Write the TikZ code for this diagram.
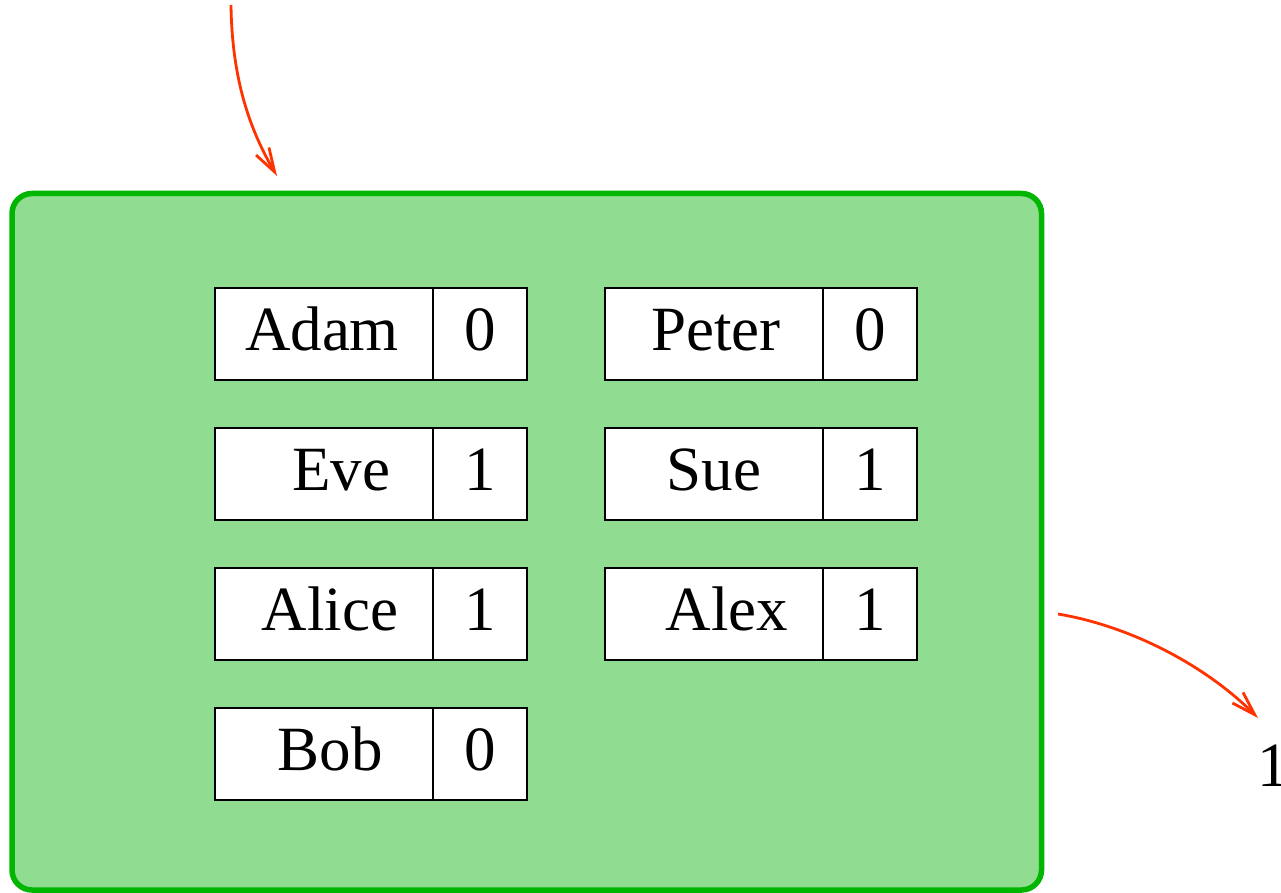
\documentclass[tikz,border=0pt]{standalone}
\usepackage{fontspec}
\setmainfont{Liberation Serif}
\usetikzlibrary{arrows.meta}
\definecolor{boxfill}{RGB}{144,220,144}
\definecolor{boxline}{RGB}{0,182,0}
\definecolor{arrred}{RGB}{255,51,0}
\begin{document}
\begin{tikzpicture}[x=1pt,y=-1pt,
  cellbox/.style={draw=black,line width=1.3pt,fill=white},
  celltext/.style={font=\fontsize{63}{70}\selectfont,inner sep=0pt,anchor=base},
  redarrow/.style={draw=arrred,line width=2.8pt,-{Straight Barb[length=24pt,width=15pt,line width=2.8pt]}}]
\useasboundingbox (0,0) rectangle (1281,893);
\begin{scope}
\clip (0,0) rectangle (1281,893);
\draw[boxline,fill=boxfill,line width=5.5pt,rounded corners=20pt] (12,193.5) rectangle (1041.5,890) coordinate (boxse);
\coordinate (boxnw) at (12,193.5);
% cells
\foreach \nm/\val/\cx/\y/\tx [count=\i] in {Adam/0/215/288/322, Eve/1/215/428/341, Alice/1/215/568/330, Bob/0/215/708/330, Peter/0/605/288/716, Sue/1/605/428/714, Alex/1/605/568/727}{
  \draw[cellbox] (\cx,\y) rectangle ++(218,92);
  \draw[cellbox] (\cx+218,\y) rectangle ++(94,92);
  \node[celltext] (n\i) at (\tx,\y+62) {\nm};
  \node[celltext] (v\i) at (\cx+265,\y+62) {\val};
}
\node[font=\fontsize{63}{70}\selectfont,inner sep=0pt,anchor=base west] (one) at (1257,786) {1};
\coordinate (a1s) at (231,5);
\coordinate (a1e) at (277,176);
\coordinate (a2s) at (1058,614);
\coordinate (a2e) at (1258,718);
\draw[redarrow] (a1s) .. controls (232,80) and (250,130) .. (a1e);
\draw[redarrow] (a2s) .. controls (1130,626) and (1205,665) .. (a2e);
\end{scope}
\end{tikzpicture}
\end{document}
